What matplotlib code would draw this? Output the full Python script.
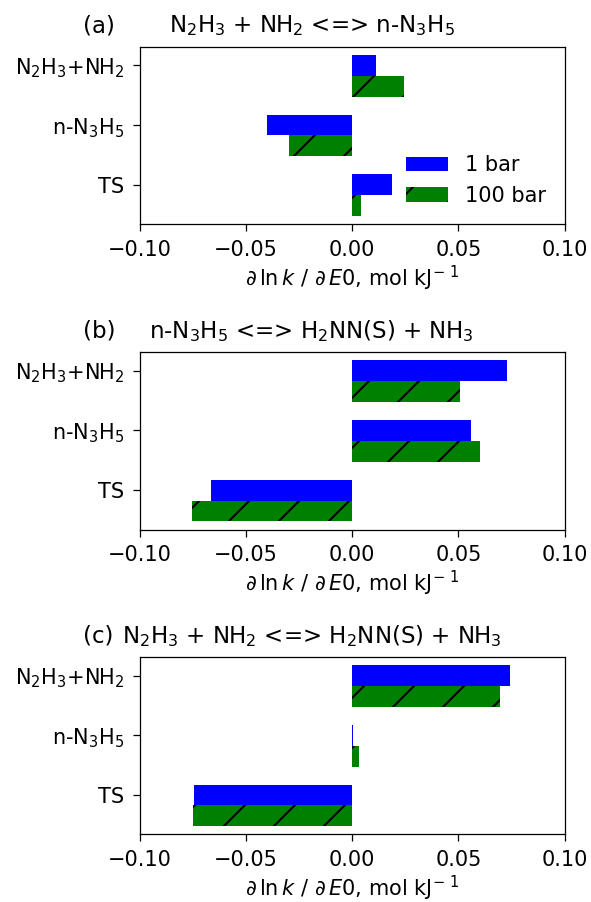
import matplotlib
matplotlib.use("Agg")
import matplotlib.pyplot as plt
import numpy as np

# species on the y axis (bottom to top)
species = ['TS', 'n-N$_3$H$_5$', 'N$_2$H$_3$+NH$_2$']

panel_labels = ['(a)', '(b)', '(c)']
reactions = ['N$_2$H$_3$ + NH$_2$ <=> n-N$_3$H$_5$',
             'n-N$_3$H$_5$ <=> H$_2$NN(S) + NH$_3$',
             'N$_2$H$_3$ + NH$_2$ <=> H$_2$NN(S) + NH$_3$']

# sensitivities d ln k / d E0, same order as species
sens_1bar = [
    [0.0188, -0.0404, 0.0113],
    [-0.0664, 0.0559, 0.0727],
    [-0.0746, 0.0003, 0.0743],
]
sens_100bar = [
    [0.0042, -0.0298, 0.0245],
    [-0.0757, 0.0600, 0.0506],
    [-0.0752, 0.0032, 0.0694],
]

plt.rcParams['font.size'] = 5
plt.rcParams['axes.linewidth'] = 0.3
plt.rcParams['xtick.major.width'] = 0.3
plt.rcParams['ytick.major.width'] = 0.3
plt.rcParams['xtick.major.size'] = 1.7
plt.rcParams['ytick.major.size'] = 1.7
plt.rcParams['xtick.major.pad'] = 2
plt.rcParams['ytick.major.pad'] = 2
plt.rcParams['axes.titlepad'] = 3.5
plt.rcParams['axes.labelpad'] = 1.0
plt.rcParams['hatch.linewidth'] = 0.5

fig = plt.figure(figsize=(591 / 300, 902 / 300), dpi=300)

# axes boxes in pixels: left, top, bottom
left, right = 140, 564.5
boxes = [(46.7, 224.3), (352.3, 529.5), (657.3, 834.3)]

width = 0.35
ind = np.arange(len(species))

for i, (top, bottom) in enumerate(boxes):
    ax = fig.add_axes([left / 591, 1 - bottom / 902,
                       (right - left) / 591, (bottom - top) / 902])
    ax.barh(ind, sens_1bar[i], width, color='blue', label='1 bar')
    ax.barh(ind - width, sens_100bar[i], width, color='green', hatch='//',
            label='100 bar')
    ax.set_yticks(ind)
    ax.set_yticklabels(species)
    ax.set_xlim(-0.1, 0.1)
    ax.set_xticks([-0.1, -0.05, 0.0, 0.05, 0.1])
    ax.set_xlabel(r'$\partial\,\ln k\ /\ \partial\,E0$, mol kJ$^{-\ 1}$')
    # panel letter sits out left, reaction is centred a bit left of the axes
    ax.set_title(panel_labels[i], loc='left', fontsize=5.5, x=-0.134)
    ax.set_title(reactions[i], fontsize=5.5, x=0.404)
    if i == 0:
        ax.legend(loc='lower right', frameon=False)

fig.savefig('out.png', dpi=300)
